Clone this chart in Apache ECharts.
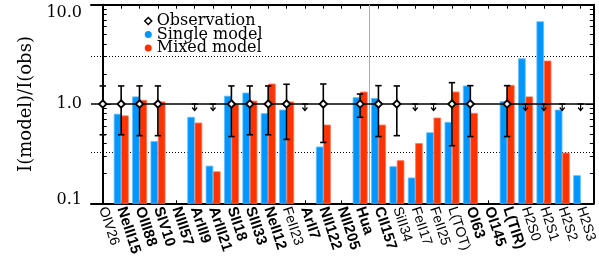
<!DOCTYPE html>
<html>
<head>
<meta charset="utf-8">
<script src="https://cdn.jsdelivr.net/npm/echarts@6/dist/echarts.min.js"></script>
<style>
html,body{margin:0;padding:0;background:#fff;}
#chart{width:599px;height:272px;}
</style>
</head>
<body>
<div id="chart"></div>
<script>
// ---- data ----
var categories = ['OIV26','NeIII15','OIII88','SIV10','NIII57','ArIII9','ArIII21','SII18','SIII33','NeII12','FeII23','ArII7','NII122','NII205','Hua','CII157','SiII34','FeII17','FeII25','L(TOT)','OI63','OI145','L(TIR)','H2S0','H2S1','H2S2','H2S3'];
var boldLabel = [0,1,1,1,1,1,1,1,1,1,0,1,1,1,1,1,0,0,0,0,1,1,1,0,0,0,0];
var singleModel = [null,0.79,1.18,0.42,null,0.735,0.237,1.20,1.29,0.80,0.87,null,0.369,null,1.16,1.14,0.234,0.18,0.514,0.654,1.52,null,1.06,2.86,6.74,0.87,0.19];
var mixedModel  = [null,0.76,1.09,1.05,null,0.644,0.208,0.99,1.07,1.59,1.05,null,0.614,null,1.32,0.614,0.269,0.40,0.723,1.32,0.806,null,1.54,1.18,2.71,0.321,null];
var obsValue = [1,1,1,1,null,null,null,1,1,1,1,null,1,null,1,1,1,null,null,1,1,null,1,null,null,null,null];
var obsLow   = [0.49,0.49,0.48,0.48,null,null,null,0.47,0.49,0.49,0.44,null,0.41,null,0.735,0.47,0.48,null,null,0.38,0.47,null,0.47,null,null,null,null];
var obsHigh  = [1.52,1.52,1.52,1.52,null,null,null,1.52,1.52,1.52,1.58,null,1.59,null,1.26,1.53,1.52,null,null,1.64,1.53,null,1.53,null,null,null,null];
var upperLimit = [null,null,null,null,null,1,1,null,null,null,null,1,null,null,null,null,null,1,1,null,null,null,null,1,1,1,1];
var yMajorTicks = [0.1,1,10];
var yMinorTicks = [0.2,0.3,0.4,0.5,0.6,0.7,0.8,0.9,2,3,4,5,6,7,8,9];
var refLines = [1, 3, 1/3];
var dividerX = 14.5;

var FONT = 'DejaVu Serif';
var XFONT = 'Liberation Sans';
var BLUE = '#0096ff', RED = '#ff3300';
var idx = categories.map(function(c,i){return i;});

function barData(arr){
  var out=[]; arr.forEach(function(v,i){ if(v!=null) out.push([i,v]); }); return out;
}
var obsData=[]; obsValue.forEach(function(v,i){ if(v!=null) obsData.push([i,v,obsLow[i],obsHigh[i]]); });
var obsPoints=[]; obsValue.forEach(function(v,i){ if(v!=null) obsPoints.push([i,v]); });
var ulData=[]; upperLimit.forEach(function(v,i){ if(v!=null) ulData.push([i,v]); });

function makeBar(side,color,stroke){
  return function(params, api){
    var x = api.value(0), v = api.value(1);
    var top = api.coord([x, v]);
    var bot = api.coord([x, 0.1]);
    var unit = api.size([1,0])[0];
    var w = unit*0.37;
    var x0 = side<0 ? top[0]-w-unit*0.01 : top[0]+unit*0.02;
    return {type:'rect', shape:{x:x0, y:top[1], width:w, height:bot[1]-top[1]},
      style:{fill:color, stroke:stroke, lineWidth:0.8}};
  };
}

var option = {
  animation:false,
  backgroundColor:'#fff',
  grid:{left:91, right:5, top:4.7, bottom:68.7, containLabel:false},
  legend:{
    orient:'vertical', left:144, top:13, padding:0, itemGap:-2.5, itemWidth:7, itemHeight:7,
    textStyle:{fontFamily:FONT, fontSize:16, color:'#000'},
    data:[
      {name:'Observation', icon:'diamond', itemStyle:{color:'#fff', borderColor:'#000', borderWidth:1.5}},
      {name:'Single model', icon:'circle', itemStyle:{color:BLUE}},
      {name:'Mixed model', icon:'circle', itemStyle:{color:RED}}
    ]
  },
  xAxis:[{
    type:'value', min:-0.64, max:26.72, position:'bottom',
    axisLine:{lineStyle:{color:'#000', width:2}},
    splitLine:{show:false},
    axisTick:{inside:true, length:3, customValues:idx, lineStyle:{color:'#000', width:1}},
    axisLabel:{customValues:idx, rotate:-72, margin:4, color:'#000', fontFamily:XFONT, fontSize:14,
      formatter:function(v){ var i=Math.round(v); return boldLabel[i] ? '{b|'+categories[i]+'}' : '{n|'+categories[i]+'}'; },
      rich:{b:{fontFamily:XFONT, fontSize:15, fontWeight:'bold', color:'#000'}, n:{fontFamily:XFONT, fontSize:14, color:'#000'}}}
  },{
    type:'value', min:-0.64, max:26.72, position:'top',
    axisLine:{lineStyle:{color:'#000', width:2}},
    splitLine:{show:false},
    axisTick:{inside:true, length:4, customValues:idx, lineStyle:{color:'#000', width:1}},
    axisLabel:{show:false}
  }],
  yAxis:[{
    type:'log', logBase:10, min:0.1, max:10, position:'left',
    name:'I(model)/I(obs)', nameLocation:'middle', nameGap:55, nameRotate:90,
    nameTextStyle:{fontFamily:FONT, fontSize:18, color:'#000'},
    axisLine:{show:true, lineStyle:{color:'#000', width:2}},
    splitLine:{show:false},
    axisTick:{inside:true, length:8, customValues:yMajorTicks, lineStyle:{color:'#000', width:1}},
    axisLabel:{customValues:yMajorTicks, margin:9, color:'#000', fontFamily:FONT, fontSize:16,
      formatter:function(v){ var e=Math.round(Math.log10(v)); if(e>=1) return '{t|10.0}'; if(e<=-1) return '{b|0.1}'; return '{m|1.0}'; },
      rich:{t:{fontFamily:FONT, fontSize:16, padding:[16,0,0,0]}, b:{fontFamily:FONT, fontSize:16, padding:[0,0,6,0]}, m:{fontFamily:FONT, fontSize:16}}}
  },{
    type:'log', logBase:10, min:0.1, max:10, position:'left',
    axisLine:{show:false}, splitLine:{show:false}, axisLabel:{show:false},
    axisTick:{inside:true, length:4, customValues:yMinorTicks, lineStyle:{color:'#000', width:1}}
  },{
    type:'log', logBase:10, min:0.1, max:10, position:'right',
    axisLine:{show:true, lineStyle:{color:'#000', width:2}}, splitLine:{show:false}, axisLabel:{show:false},
    axisTick:{inside:true, length:8, customValues:yMajorTicks, lineStyle:{color:'#000', width:1}}
  },{
    type:'log', logBase:10, min:0.1, max:10, position:'right',
    axisLine:{show:false}, splitLine:{show:false}, axisLabel:{show:false},
    axisTick:{inside:true, length:4, customValues:yMinorTicks, lineStyle:{color:'#000', width:1}}
  }],
  series:[
    {
      name:'Single model', type:'custom', xAxisIndex:0, yAxisIndex:0, z:2,
      renderItem:makeBar(-1, BLUE, '#66c0ff'), data:barData(singleModel),
      itemStyle:{color:BLUE},
      markLine:{silent:true, symbol:'none', label:{show:false}, z:1,
        data:[
          {yAxis:refLines[1], lineStyle:{color:'#000', width:1, type:[1,2]}},
          {yAxis:refLines[2], lineStyle:{color:'#000', width:1, type:[1,2]}},
          {xAxis:dividerX, lineStyle:{color:'#aaaaaa', width:1, type:'solid'}}
        ]}
    },
    {
      name:'Mixed model', type:'custom', xAxisIndex:0, yAxisIndex:0, z:2,
      renderItem:makeBar(1, RED, '#ff7a5c'), data:barData(mixedModel),
      itemStyle:{color:RED}
    },
    {
      name:'obs-error', type:'custom', xAxisIndex:0, yAxisIndex:0, z:5,
      itemStyle:{color:'#000'},
      markLine:{silent:true, symbol:'none', label:{show:false}, z:4,
        data:[{yAxis:refLines[0], lineStyle:{color:'#000', width:1.5, type:'solid'}}]},
      renderItem:function(params, api){
        var x=api.value(0);
        var c=api.coord([x, api.value(1)]);
        var lo=api.coord([x, api.value(2)]);
        var hi=api.coord([x, api.value(3)]);
        var cw=3.2;
        return {type:'group', children:[
          {type:'line', shape:{x1:c[0], y1:lo[1], x2:c[0], y2:hi[1]}, style:{stroke:'#000', lineWidth:1.6}},
          {type:'line', shape:{x1:c[0]-cw, y1:lo[1], x2:c[0]+cw, y2:lo[1]}, style:{stroke:'#000', lineWidth:1.6}},
          {type:'line', shape:{x1:c[0]-cw, y1:hi[1], x2:c[0]+cw, y2:hi[1]}, style:{stroke:'#000', lineWidth:1.6}}
        ]};
      },
      data:obsData
    },
    {
      name:'Observation', type:'scatter', xAxisIndex:0, yAxisIndex:0, z:6,
      symbol:'diamond', symbolSize:7.5,
      itemStyle:{color:'#fff', borderColor:'#000', borderWidth:1.8, opacity:1},
      data:obsPoints
    },
    {
      name:'upper limit', type:'custom', xAxisIndex:0, yAxisIndex:0, z:5,
      renderItem:function(params, api){
        var c=api.coord([api.value(0), api.value(1)]);
        return {type:'group', children:[
          {type:'line', shape:{x1:c[0]-3, y1:c[1], x2:c[0]+3, y2:c[1]}, style:{stroke:'#000', lineWidth:1.5}},
          {type:'line', shape:{x1:c[0], y1:c[1], x2:c[0], y2:c[1]+6.5}, style:{stroke:'#000', lineWidth:1.2}},
          {type:'polyline', shape:{points:[[c[0]-2.5,c[1]+3.5],[c[0],c[1]+6.5],[c[0]+2.5,c[1]+3.5]]}, style:{stroke:'#000', lineWidth:1.2, fill:null}}
        ]};
      },
      data:ulData
    }
  ]
};
var chart = echarts.init(document.getElementById('chart'), null, {renderer:'canvas'});
chart.setOption(option);
</script>
</body>
</html>
